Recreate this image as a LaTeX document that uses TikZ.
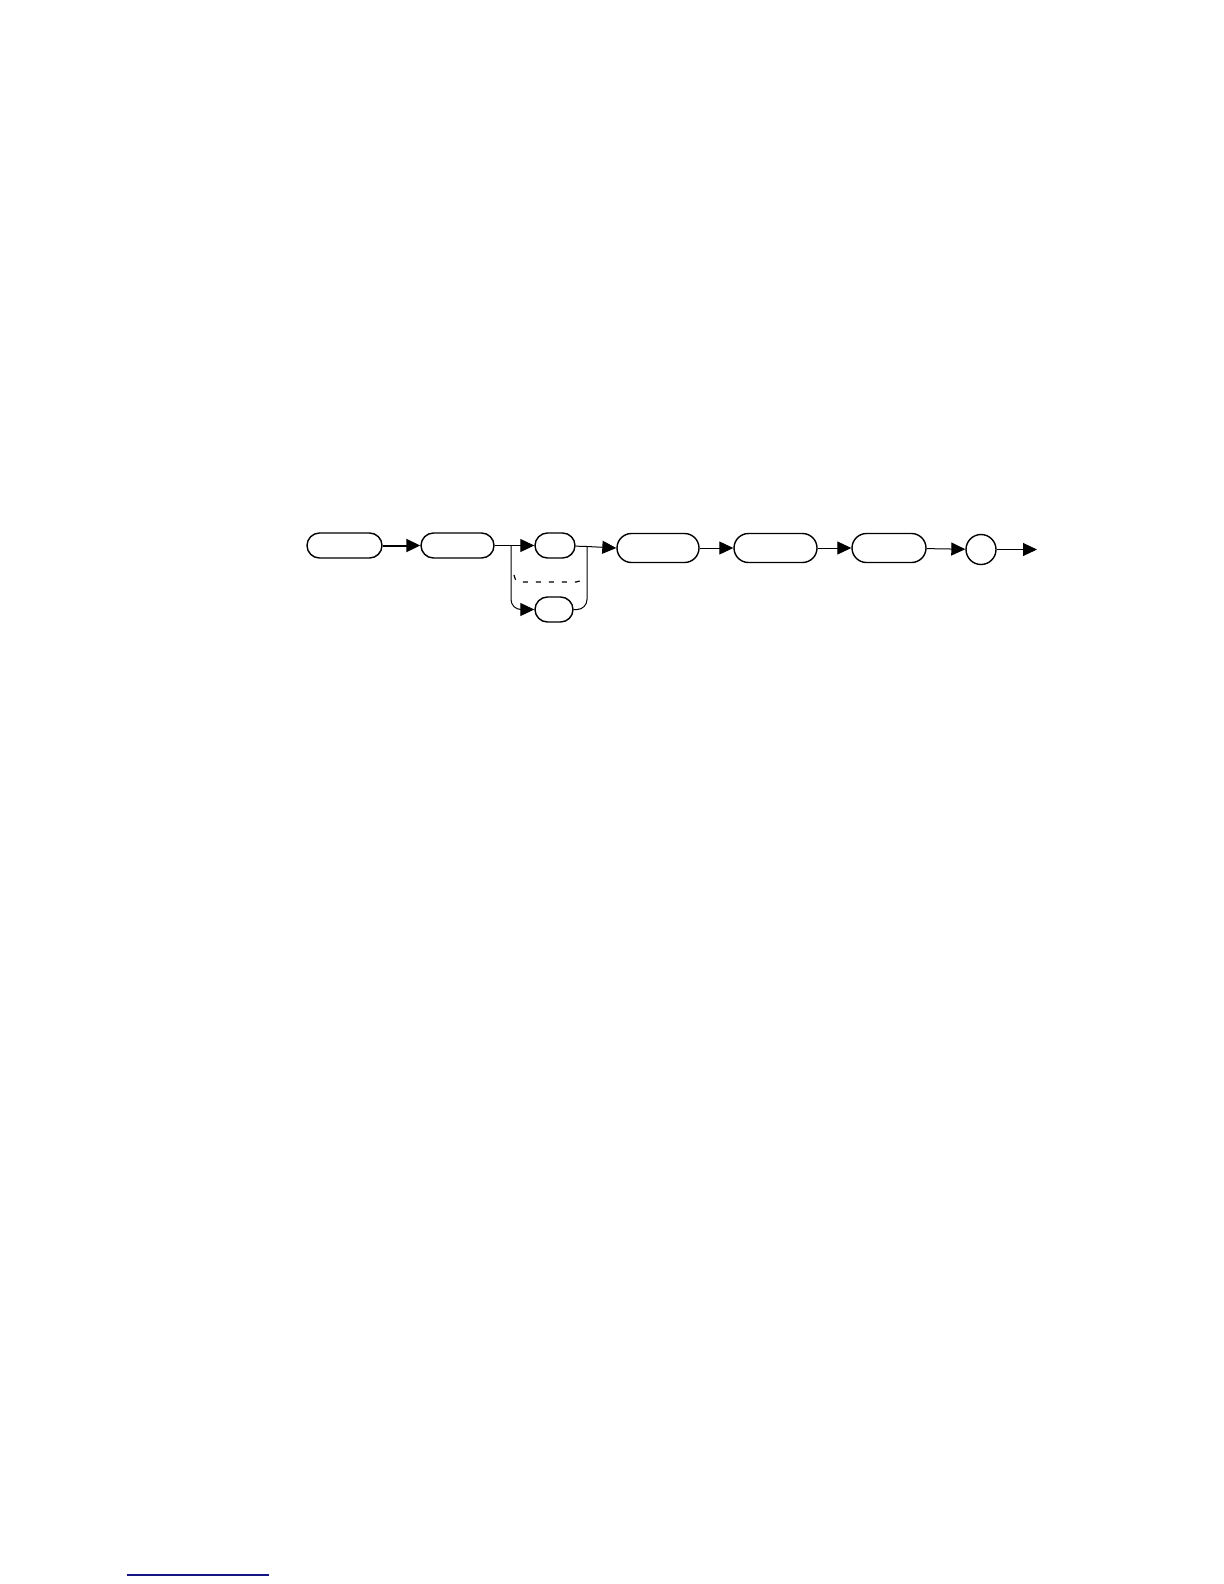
\documentclass[tikz,border=0pt]{standalone}
\usetikzlibrary{arrows.meta}
\definecolor{linkblue}{RGB}{20,20,130}
\tikzset{
	pill/.style={draw, line width=0.7pt, rounded corners=6.25pt, minimum height=12.5pt, inner sep=0pt},
	tallpill/.style={pill, rounded corners=7.25pt, minimum height=14.5pt},
	flow/.style={line width=0.5pt, -{Triangle[length=7pt,width=6.5pt]}},
}
\begin{document}
\begin{tikzpicture}[x=0.5pt,y=-0.5pt]
			\useasboundingbox (0,0) rectangle (1224,1584);

			\node[pill, minimum width=37.5pt] (cmd) at (344.5,545.5) {};
			\node[pill, minimum width=36.5pt] (sub) at (457.5,545.5) {};
			\node[pill, minimum width=20pt] (opta) at (555,545.5) {};
			\node[pill, minimum width=19pt] (optb) at (554,609.5) {};
			\node[tallpill, minimum width=41pt] (parA) at (658,548) {};
			\node[tallpill, minimum width=41.5pt] (parB) at (775.5,548) {};
			\node[tallpill, minimum width=37pt] (parC) at (889,548) {};
			\node[draw, circle, line width=0.7pt, minimum size=15pt, inner sep=0pt] (term) at (981,549.5) {};

			\coordinate (splitL) at (511,545.5);
			\coordinate (splitR) at (587,546.5);
			\coordinate (out) at (1037,549.5);

			\draw[flow, line width=1pt] (cmd) -- (sub);
			\draw[line width=0.5pt] (sub) -- (splitL);
			\draw[flow] (splitL) -- (opta);
			\draw[line width=0.5pt] (opta) -- (splitR);
			\draw[flow] (splitR) -- (parA.west);
			\draw[flow, rounded corners=5pt] (splitL) |- (optb);
			\draw[line width=0.5pt, rounded corners=5pt] (optb) -| (splitR);

			\draw[line width=0.6pt, dash pattern=on 2.5pt off 4pt] (514,575) .. controls (516,582) .. (524,582) -- (572,582) .. controls (580,582) .. (582,575);

			\draw[flow] (parA) -- (parB);
			\draw[flow] (parB) -- (parC);
			\draw[flow] (parC) -- (term);
			\draw[flow] (term) -- (out);

			\draw[linkblue, line width=0.6pt] (127,1575) -- (269,1575);
		\end{tikzpicture}
\end{document}
